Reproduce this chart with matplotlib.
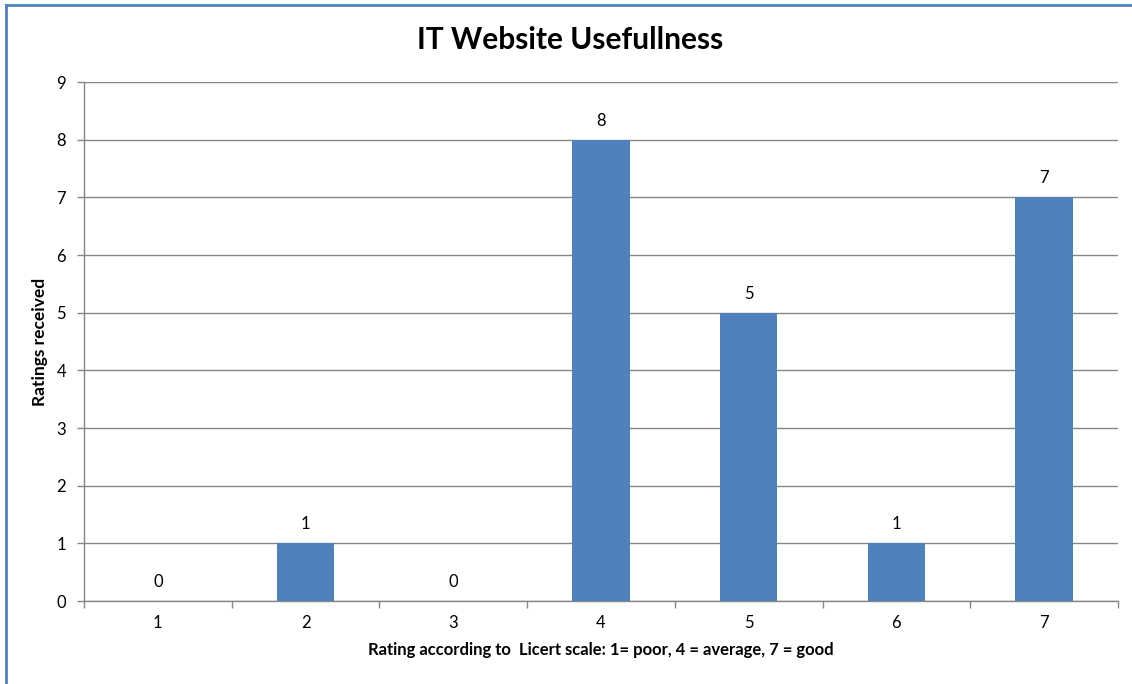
import matplotlib
matplotlib.use("Agg")
import matplotlib.pyplot as plt
from matplotlib.lines import Line2D

plt.rcParams['font.family'] = ['Lato', 'DejaVu Sans']

ratings = ['1', '2', '3', '4', '5', '6', '7']
counts = [0, 1, 0, 8, 5, 1, 7]
yticks = list(range(0, 10))

bar_color = '#4F81BD'
grid_color = '#868686'

fig = plt.figure(figsize=(11.32, 6.84), dpi=100)
ax = fig.add_axes([0.0742, 0.1213, 0.9134, 0.7588])

x = list(range(len(ratings)))
bars = ax.bar(x, counts, width=0.39, color=bar_color, zorder=3)

for xi, v in zip(x, counts):
    ax.text(xi, v + 0.19, str(v), ha='center', va='bottom', fontsize=12, color='black')

ax.set_xlim(-0.5, len(ratings) - 0.5)
ax.set_ylim(0, 9)
ax.set_yticks(yticks)
ax.set_yticklabels([str(t) for t in yticks], fontsize=12)
ax.set_xticks(x)
ax.set_xticklabels(ratings, fontsize=12)
ax.set_xticks([i - 0.5 for i in range(len(ratings) + 1)], minor=True)
ax.tick_params(axis='x', which='major', length=0, pad=10)
ax.tick_params(axis='x', which='minor', length=5, color=grid_color, width=1)
ax.tick_params(axis='y', length=5, color=grid_color, width=1, pad=8)

ax.grid(axis='y', color=grid_color, linewidth=1, zorder=0)
for s in ['top', 'right']:
    ax.spines[s].set_visible(False)
for s in ['left', 'bottom']:
    ax.spines[s].set_color(grid_color)
    ax.spines[s].set_linewidth(1)

ax.set_xlabel('Rating according to  Licert scale: 1= poor, 4 = average, 7 = good',
              fontsize=12, fontweight='bold', labelpad=8)
ax.set_ylabel('Ratings received', fontsize=12.5, fontweight='bold', labelpad=6)

fig.text(0.504, 0.942, 'IT Website Usefullness', ha='center', va='center',
         fontsize=21.5, fontweight='bold')

# chart frame (blue border on top and left)
fig.add_artist(Line2D([0.0057, 1.0], [0.9934, 0.9934], color=bar_color, linewidth=2, transform=fig.transFigure))
fig.add_artist(Line2D([0.0057, 0.0057], [0.0, 0.9934], color=bar_color, linewidth=2, transform=fig.transFigure))

fig.savefig('out.png', dpi=100)
